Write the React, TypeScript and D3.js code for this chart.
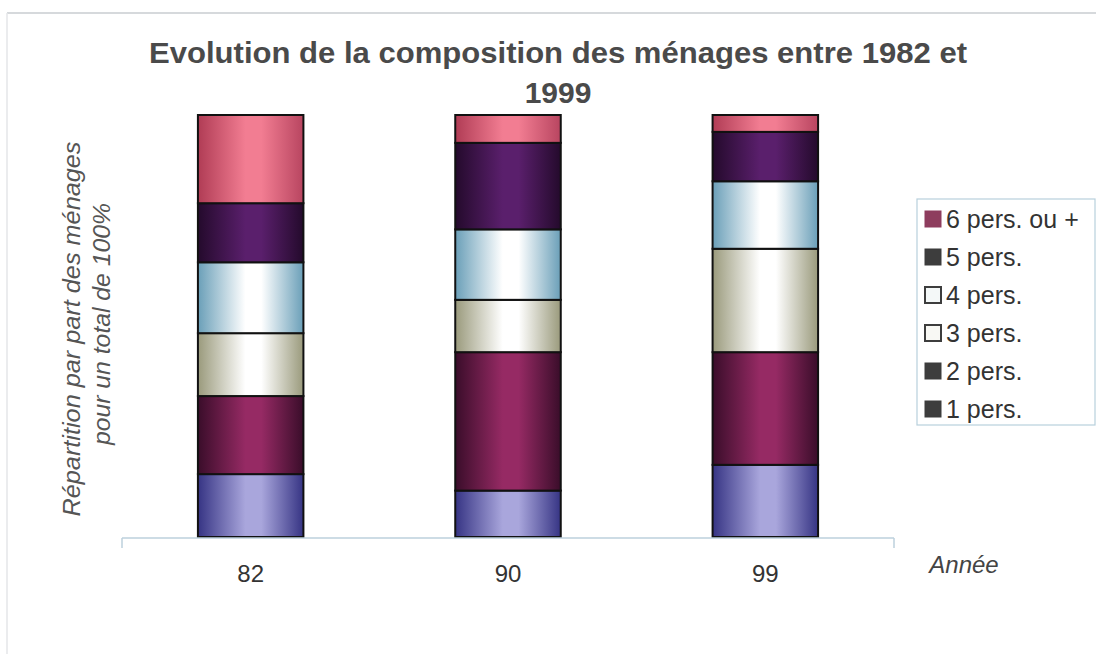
import React from "react";
import * as d3 from "d3";

const categories = ["82", "90", "99"];
const seriesNames = ["1 pers.", "2 pers.", "3 pers.", "4 pers.", "5 pers.", "6 pers. ou +"];
const onePers = [14.9, 11.0, 17.1];
const twoPers = [18.5, 32.8, 26.7];
const threePers = [14.9, 12.4, 24.5];
const fourPers = [16.8, 16.7, 16.0];
const fivePers = [14.0, 20.5, 11.7];
const sixPers = [20.9, 6.6, 4.0];
const legendOrder = ["6 pers. ou +", "5 pers.", "4 pers.", "3 pers.", "2 pers.", "1 pers."];

const W = 1096;
const H = 654;

const barColors: Record<string, [string, string, string]> = {
  "1 pers.": ["#363484", "#a9a6dc", "#363484"],
  "2 pers.": ["#3a0d2a", "#962a64", "#3a0d2a"],
  "3 pers.": ["#9a9a7c", "#ffffff", "#9a9a7c"],
  "4 pers.": ["#6a9fb8", "#ffffff", "#6a9fb8"],
  "5 pers.": ["#240a2c", "#5a1f6c", "#240a2c"],
  "6 pers. ou +": ["#b03c55", "#f27d92", "#b84560"],
};
const legendSwatch: Record<string, { fill: string; stroke: string; sw: number }> = {
  "6 pers. ou +": { fill: "#8e3d5e", stroke: "#8e3d5e", sw: 1 },
  "5 pers.": { fill: "#3d3d3d", stroke: "#3d3d3d", sw: 1 },
  "4 pers.": { fill: "#f4f8f8", stroke: "#3d3d3d", sw: 2 },
  "3 pers.": { fill: "#f8f8f4", stroke: "#3d3d3d", sw: 2 },
  "2 pers.": { fill: "#3d3d3d", stroke: "#3d3d3d", sw: 1 },
  "1 pers.": { fill: "#3d3d3d", stroke: "#3d3d3d", sw: 1 },
};

export default function App() {
  const values = [onePers, twoPers, threePers, fourPers, fivePers, sixPers];
  const rows = categories.map((c, i) => {
    const r: any = { cat: c };
    seriesNames.forEach((s, k) => (r[s] = values[k][i]));
    return r;
  });
  const stack = d3.stack<any>().keys(seriesNames)(rows);
  const x = d3.scaleBand().domain(categories).range([122, 894]).paddingInner(0.59).paddingOuter(0.295);
  const y = d3.scaleLinear().domain([0, 100]).range([537, 115]);
  const font = "'Liberation Sans', Arial, sans-serif";

  return (
    <div style={{ position: "absolute", left: 0, top: 0 }}>
      <svg width={W} height={H} style={{ display: "block", background: "#fff" }}>
        <defs>
          {seriesNames.map((s, k) => (
            <linearGradient key={s} id={`g${k}`} x1="0" x2="1" y1="0" y2="0">
              <stop offset="0" stopColor={barColors[s][0]} />
              <stop offset="0.45" stopColor={barColors[s][1]} />
              <stop offset="0.6" stopColor={barColors[s][1]} />
              <stop offset="1" stopColor={barColors[s][2]} />
            </linearGradient>
          ))}
        </defs>
        <line x1={7} x2={W} y1={13} y2={13} stroke="#c9ccd0" strokeWidth={1.5} />
        <line x1={7} x2={7} y1={13} y2={H} stroke="#e4e6e8" strokeWidth={1.5} />

        <text x={558} y={63} textAnchor="middle" fontFamily={font} fontWeight="bold" fontSize={30} fill="#4a4a4a" textLength={818} lengthAdjust="spacingAndGlyphs">
          Evolution de la composition des ménages entre 1982 et
        </text>
        <text x={558} y={103} textAnchor="middle" fontFamily={font} fontWeight="bold" fontSize={30} fill="#4a4a4a">
          1999
        </text>

        <g transform="translate(72,329) rotate(-90)">
          <text x={0} y={8} textAnchor="middle" fontFamily={font} fontStyle="italic" fontSize={24} fill="#555" textLength={375} lengthAdjust="spacingAndGlyphs">
            Répartition par part des ménages
          </text>
        </g>
        <g transform="translate(102,324) rotate(-90)">
          <text x={0} y={8} textAnchor="middle" fontFamily={font} fontStyle="italic" fontSize={24} fill="#555" textLength={242} lengthAdjust="spacingAndGlyphs">
            pour un total de 100%
          </text>
        </g>

        {stack.map((layer, k) => (
          <g key={layer.key}>
            {layer.map((d, i) => (
              <rect
                key={i}
                x={x(categories[i])!}
                y={y(d[1])}
                width={x.bandwidth()}
                height={y(d[0]) - y(d[1])}
                fill={`url(#g${k})`}
                stroke="#111"
                strokeWidth={2}
              />
            ))}
          </g>
        ))}

        <line x1={122} x2={894} y1={538} y2={538} stroke="#bcd0dc" strokeWidth={1.5} />
        <line x1={122} x2={122} y1={538} y2={548} stroke="#bcd0dc" strokeWidth={1.5} />
        <line x1={894} x2={894} y1={538} y2={548} stroke="#bcd0dc" strokeWidth={1.5} />
        {categories.map((c) => (
          <text key={c} x={x(c)! + x.bandwidth() / 2} y={582} textAnchor="middle" fontFamily={font} fontSize={24} fill="#333">
            {c}
          </text>
        ))}
        <text x={964} y={573} textAnchor="middle" fontFamily={font} fontStyle="italic" fontSize={24} fill="#444">
          Année
        </text>

        <rect x={917} y={199} width={178} height={226} fill="#fff" stroke="#b8d0dc" strokeWidth={1.2} />
        {legendOrder.map((s, i) => {
          const cy = 219 + i * 38;
          const sw = legendSwatch[s];
          return (
            <g key={s}>
              <rect x={925} y={cy - 8} width={16} height={16} fill={sw.fill} stroke={sw.stroke} strokeWidth={sw.sw} />
              <text x={946} y={cy + 9} fontFamily={font} fontSize={25} fill="#333">
                {s}
              </text>
            </g>
          );
        })}
      </svg>
    </div>
  );
}
